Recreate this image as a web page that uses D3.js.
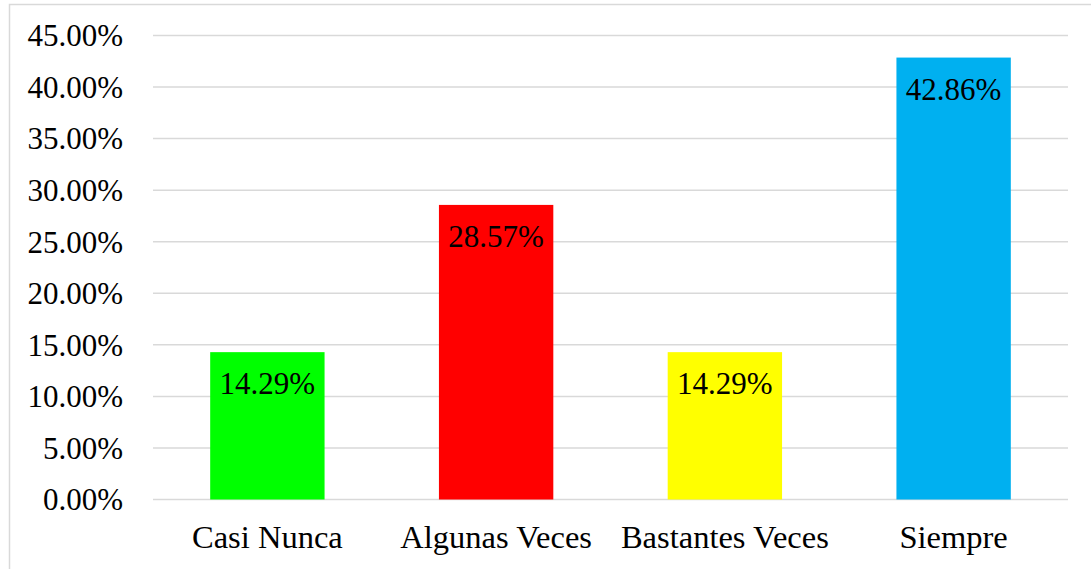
<!DOCTYPE html>
<html>
<head>
<meta charset="utf-8">
<script src="https://cdn.jsdelivr.net/npm/d3@7"></script>
<style>
  body { margin: 0; background: #fff; }
  text { font-family: "Liberation Serif", "Times New Roman", serif; fill: #000; }
</style>
</head>
<body>
<div id="chart"></div>
<script>
var categories = ["Casi Nunca", "Algunas Veces", "Bastantes Veces", "Siempre"];
var values = [0.1429, 0.2857, 0.1429, 0.4286];
var colors = ["#00ff00", "#ff0000", "#ffff00", "#00b0f0"];
var yTicks = [0, 0.05, 0.10, 0.15, 0.20, 0.25, 0.30, 0.35, 0.40, 0.45];

var width = 1091, height = 569;
var margin = {left: 153, right: 23, top: 35.5, bottom: 69.5};

var svg = d3.select("#chart").append("svg")
  .attr("width", width)
  .attr("height", height);

// chart frame
svg.append("rect")
  .attr("x", 9.5).attr("y", 4.5)
  .attr("width", 1100).attr("height", 600)
  .attr("fill", "none")
  .attr("stroke", "#d9d9d9")
  .attr("stroke-width", 1.5);

var x = d3.scaleBand()
  .domain(categories)
  .range([margin.left, width - margin.right])
  .paddingInner(0.5)
  .paddingOuter(0.25);

var y = d3.scaleLinear()
  .domain([0, 0.45])
  .range([height - margin.bottom, margin.top]);

// gridlines
svg.append("g").selectAll("line")
  .data(yTicks)
  .enter().append("line")
    .attr("x1", margin.left)
    .attr("x2", width - margin.right)
    .attr("y1", d => y(d))
    .attr("y2", d => y(d))
    .attr("stroke", "#d9d9d9")
    .attr("stroke-width", 1.5);

// y labels
svg.append("g").selectAll("text")
  .data(yTicks)
  .enter().append("text")
    .attr("x", 123)
    .attr("y", d => y(d))
    .attr("dy", "0.35em")
    .attr("text-anchor", "end")
    .style("font-size", "31px")
    .text(d => d3.format(".2%")(d));

// bars
svg.append("g").selectAll("rect")
  .data(values)
  .enter().append("rect")
    .attr("x", (d, i) => x(categories[i]))
    .attr("y", d => y(d))
    .attr("width", x.bandwidth())
    .attr("height", d => y(0) - y(d))
    .attr("fill", (d, i) => colors[i]);

// data labels
svg.append("g").selectAll("text")
  .data(values)
  .enter().append("text")
    .attr("x", (d, i) => x(categories[i]) + x.bandwidth() / 2)
    .attr("y", d => y(d) + 42)
    .attr("text-anchor", "middle")
    .style("font-size", "31px")
    .text(d => d3.format(".2%")(d));

// category labels
svg.append("g").selectAll("text")
  .data(categories)
  .enter().append("text")
    .attr("x", d => x(d) + x.bandwidth() / 2)
    .attr("y", 548)
    .attr("text-anchor", "middle")
    .style("font-size", "32.5px")
    .text(d => d);
</script>
</body>
</html>
